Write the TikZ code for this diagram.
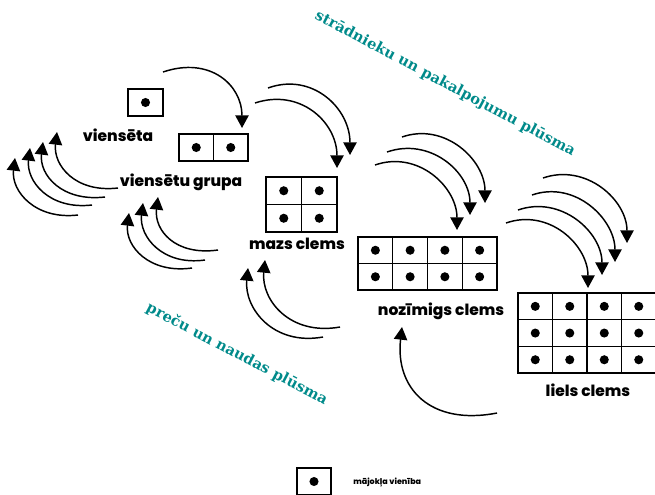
\documentclass[tikz,border=0pt]{standalone}
\usepackage{fontspec}
\usetikzlibrary{arrows.meta}
\newfontfamily\labfont{Poppins}[BoldFont={Poppins ExtraBold}]
\newfontfamily\flowfont{DejaVu Serif}
\definecolor{flowteal}{RGB}{0,138,138}
\tikzset{
  gridline/.style={line width=1.1pt},
  dotmark/.style={fill=black},
  flowarrow/.style={line width=1.1pt,-{Triangle[width=10pt,length=9.5pt]}},
  lab/.style={font=\labfont\bfseries\fontsize{11.6}{14}\selectfont, inner sep=0pt},
  flowlab/.style={font=\flowfont\bfseries\fontsize{11}{13}\selectfont, text=flowteal, inner sep=0pt},
}
\newcommand\housegrid[6]{%
  \draw[gridline] (#1,#2) rectangle ++({#3*#5},{#4*#6});
  \foreach \i in {0,...,#3} {\draw[gridline] ({#1+\i*#5},#2) -- ++(0,{#4*#6});}
  \foreach \j in {0,...,#4} {\draw[gridline] (#1,{#2+\j*#6}) -- ++({#3*#5},0);}
  \foreach \i in {1,...,#3} {\foreach \j in {1,...,#4} {\fill[dotmark] ({#1+(\i-0.5)*#5},{#2+(\j-0.5)*#6}) circle[radius=3.4pt];}}
}
\begin{document}
\begin{tikzpicture}[x=0.75pt,y=-0.75pt]
\useasboundingbox (0,0) rectangle (655,494);
% house grids
\housegrid{128}{89}{1}{1}{35}{27}
\housegrid{179}{134}{2}{1}{34.5}{27}
\housegrid{266}{177}{2}{2}{35.5}{27.5}
\housegrid{358}{237}{4}{2}{34.75}{26.5}
\housegrid{518}{293}{4}{3}{34.5}{26.7}
\housegrid{297}{468}{1}{1}{34}{27}
% labels
\node[lab] (l1) at (118,135) {viensēta};
\node[lab] (l2) at (181,182) {viensētu grupa};
\node[lab] (l3) at (297,244) {mazs clems};
\node[lab] (l4) at (441,311) {nozīmigs clems};
\node[lab] (l5) at (588,390) {liels clems};
\node[lab, font=\labfont\bfseries\fontsize{6}{8}\selectfont, anchor=west] (leg) at (353,483) {mājokļa vienība};
\node[flowlab, rotate=-28] (f1) at (445,84) {strādnieku un pakalpojumu plūsma};
\node[flowlab, rotate=-27.7] (f2) at (237,354) {preču un naudas plūsma};
% forward arrows
\draw[flowarrow] (163,72) .. controls (210,56) and (242,85) .. (242,128);
\draw[flowarrow] (268,88) .. controls (312,72) and (350,108) .. (350,155);
\draw[flowarrow] (255,103) .. controls (300,88) and (337,122) .. (337,168);
\draw[flowarrow] (402,137) .. controls (445,122) and (485,160) .. (485,203);
\draw[flowarrow] (387,152) .. controls (430,137) and (470,172) .. (470,215);
\draw[flowarrow] (375,165) .. controls (418,150) and (457,187) .. (457,230);
\draw[flowarrow] (543,178) .. controls (586,163) and (627,200) .. (627,243);
\draw[flowarrow] (532,195) .. controls (575,180) and (615,219) .. (615,262);
\draw[flowarrow] (518,210) .. controls (561,195) and (602,232) .. (602,275);
\draw[flowarrow] (506,223) .. controls (549,208) and (588,245) .. (588,288);
% return arrows
\draw[flowarrow] (118,188) .. controls (75,193) and (53,165) .. (57,132);
\draw[flowarrow] (105,197) .. controls (62,202) and (39,175) .. (43,142);
\draw[flowarrow] (92,205) .. controls (49,210) and (26,181) .. (30,148);
\draw[flowarrow] (78,215) .. controls (35,220) and (11,191) .. (15,158);
\draw[flowarrow] (218,250) .. controls (175,256) and (154,230) .. (158,197);
\draw[flowarrow] (205,260) .. controls (162,266) and (139,236) .. (143,203);
\draw[flowarrow] (192,268) .. controls (149,274) and (125,246) .. (129,213);
\draw[flowarrow] (340,327) .. controls (290,336) and (261,300) .. (265,260);
\draw[flowarrow] (323,337) .. controls (273,346) and (244,308) .. (248,268);
\draw[flowarrow] (497,413) .. controls (430,426) and (395,388) .. (402,327);
\end{tikzpicture}
\end{document}
